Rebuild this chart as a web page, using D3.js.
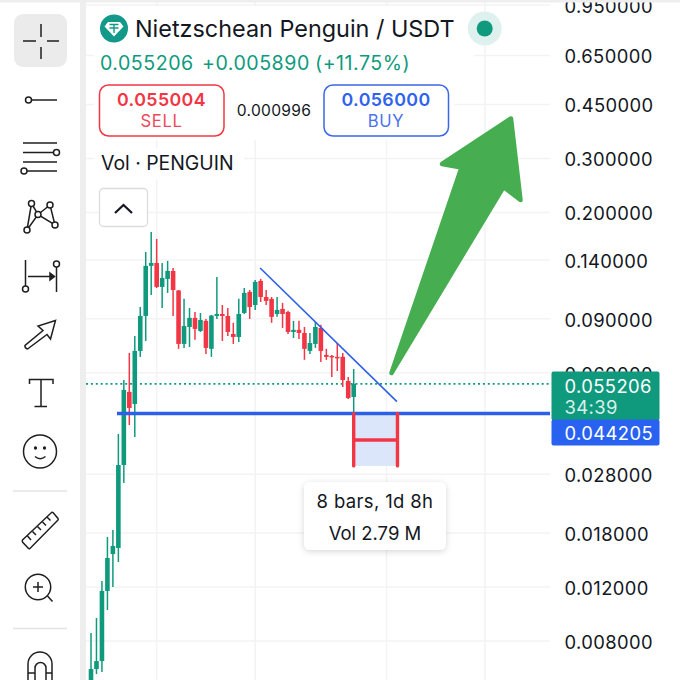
<!DOCTYPE html>
<html><head><meta charset="utf-8">
<script src="https://cdn.jsdelivr.net/npm/d3@7/dist/d3.min.js"></script>
<style>
html,body{margin:0;padding:0;background:#fff}
svg{display:block}
text{font-family:Inter,"Noto Sans",sans-serif}
</style></head><body>
<svg id="c" width="680" height="680"></svg>
<script>
const opens=[.00554,.00648,.00688,.01165,.01538,.01609,.03001,.05195,.04746,.07068,.09194,.1339,.1369,.1143,.1214,.1289,.1113,.0745,.0846,.0906,.0821,.0886,.0718,.0919,.0933,.0919,.0803,.0785,.0940,.1101,.0998,.1196,.1060,.1045,.0933,.0969,.0947,.0815,.0828,.0809,.0707,.0745,.0840,.0686,.0681,.0676,.0676,.0564,.0500];
const highs=[.00850,.00951,.01256,.01747,.01842,.03788,.05685,.06962,.07905,.09836,.1487,.1728,.1639,.1369,.1390,.1318,.1117,.1045,.0976,.0947,.0940,.0899,.0926,.1232,.0998,.0976,.0873,.1045,.1134,.1117,.1205,.1214,.1117,.1060,.1060,.1014,.0955,.0886,.0886,.0846,.0809,.0879,.0860,.0718,.0686,.0750,.0696,.0581,.0617];
const lows=[.00514,.00624,.00634,.01010,.01200,.01448,.02622,.04051,.03705,.06757,.0762,.1076,.1134,.0976,.1093,.0919,.0718,.0723,.0728,.0768,.0815,.0691,.0676,.0899,.0762,.0791,.0745,.0756,.0933,.0899,.0962,.1021,.0998,.0873,.0913,.0840,.0803,.0779,.0773,.0661,.0691,.0723,.0651,.0661,.0581,.0608,.0539,.0493,.0442];
const closes=[.00648,.00688,.01165,.01492,.01633,.03001,.05274,.04606,.07068,.09194,.1339,.1369,.1143,.1223,.1289,.1117,.0745,.0852,.0906,.0834,.0892,.0723,.0922,.0933,.0919,.0815,.0785,.0933,.1093,.0983,.1187,.1060,.1029,.0913,.0962,.0933,.0815,.0828,.0809,.0718,.0750,.0846,.0707,.0676,.0676,.0671,.0568,.0496,.055206];
const priceTicks=[.95,.65,.45,.30,.20,.14,.09,.06,.028,.018,.012,.008];
const timeGridBars=[12,30,54,72];
const lastPrice=0.055206, alertPrice=0.044205;
const trendBars=[30.9,55.9], trendPrices=[.1318,.0483];
const rangeBars=[48,56], rangeBottom=.0298, rangeMid=.0362;
const titleText="Nietzschean Penguin / USDT";
const quoteTexts=["0.055206","+0.005890","(+11.75%)"];

const GREEN="#0f9a7e",RED="#f23645",BLUE="#2d5fe8",INK="#131722",GRID="#f3f3f4";
const svg=d3.select("#c");
const y=d3.scaleLog().domain([.008,.95]).range([641,5]);
const x=d3.scaleLinear().domain([0,48]).range([91,353.7]);

svg.append("rect").attr("width",680).attr("height",680).attr("fill","#fff");
svg.append("defs").html(`<clipPath id="pane"><rect x="86" y="0" width="464" height="680"/></clipPath>
<filter id="sh" x="-20%" y="-20%" width="140%" height="150%"><feDropShadow dx="0" dy="1.5" stdDeviation="3" flood-color="#000" flood-opacity=".16"/></filter>`);
const pane=svg.append("g").attr("clip-path","url(#pane)");

// grid
pane.append("g").selectAll("line").data(priceTicks).join("line")
 .attr("x1",86).attr("x2",550).attr("y1",d=>y(d)).attr("y2",d=>y(d)).attr("stroke",GRID).attr("stroke-width",1.5);
pane.append("g").selectAll("line").data(timeGridBars).join("line")
 .attr("x1",d=>x(d)).attr("x2",d=>x(d)).attr("y1",0).attr("y2",680).attr("stroke",GRID).attr("stroke-width",1.5);

// last price line
pane.append("line").attr("x1",86).attr("x2",550).attr("y1",y(lastPrice)).attr("y2",y(lastPrice))
 .attr("stroke",GREEN).attr("stroke-width",1.6).attr("stroke-dasharray","2 2.9");

// candles
const idx=d3.range(opens.length);
const colr=i=>closes[i]>=opens[i]?GREEN:RED;
pane.append("g").selectAll("line").data(idx).join("line")
 .attr("x1",i=>x(i)).attr("x2",i=>x(i)).attr("y1",i=>y(highs[i])).attr("y2",i=>y(lows[i]))
 .attr("stroke",colr).attr("stroke-width",1.5);
pane.append("g").selectAll("rect").data(idx).join("rect")
 .attr("x",i=>x(i)-2.3).attr("width",4.6)
 .attr("y",i=>y(Math.max(opens[i],closes[i])))
 .attr("height",i=>Math.max(1.5,Math.abs(y(opens[i])-y(closes[i]))))
 .attr("fill",colr);

// range measurement
pane.append("rect").attr("x",x(rangeBars[0])).attr("width",x(rangeBars[1])-x(rangeBars[0]))
 .attr("y",y(alertPrice)).attr("height",y(rangeBottom)-y(alertPrice)).attr("fill","#dce6fb");
// alert line
pane.append("line").attr("x1",117).attr("x2",550).attr("y1",y(alertPrice)).attr("y2",y(alertPrice))
 .attr("stroke",BLUE).attr("stroke-width",3.5);
const rg=pane.append("g").attr("stroke",RED).attr("stroke-width",3.4).attr("stroke-linecap","round");
rangeBars.forEach(b=>rg.append("line").attr("x1",x(b)).attr("x2",x(b)).attr("y1",y(alertPrice)).attr("y2",y(rangeBottom)));
rg.append("line").attr("x1",x(rangeBars[0])).attr("x2",x(rangeBars[1])).attr("y1",y(rangeMid)).attr("y2",y(rangeMid)).attr("stroke-linecap","butt");

// trend line
pane.append("line").attr("x1",x(trendBars[0])).attr("x2",x(trendBars[1])).attr("y1",y(trendPrices[0])).attr("y2",y(trendPrices[1]))
 .attr("stroke",BLUE).attr("stroke-width",1.6);

// arrow annotation
svg.append("path").attr("d","M391.5 373 L461.5 167.5 L442 164 L511 118.5 L520.5 200 L503.5 187 Z")
 .attr("fill","#46ae50").attr("stroke","#46ae50").attr("stroke-width",4.5).attr("stroke-linejoin","round");

// tooltip
svg.append("rect").attr("x",304).attr("y",482).attr("width",142).attr("height",68).attr("rx",6).attr("fill","#fff").attr("filter","url(#sh)");
const tt=(s,xx,yy,size,fill,anchor,weight)=>svg.append("text").attr("x",xx).attr("y",yy).attr("font-size",size).attr("fill",fill).attr("text-anchor",anchor||"start").attr("font-weight",weight||400).text(s);
tt("8 bars, 1d 8h",375,508,18.5,INK,"middle").style("letter-spacing","0.35px");
tt("Vol 2.79 M",375,540,18.5,INK,"middle");

// right axis
const axis=d3.axisRight(y).tickValues(priceTicks).tickFormat(d3.format(".6f")).tickSize(0).tickPadding(0);
const ag=svg.append("g").attr("transform","translate(564.5,1.5)").call(axis);
ag.select(".domain").remove();
ag.selectAll("text").attr("font-size",18.4).attr("fill",INK).style("font-family",'Inter,"Noto Sans",sans-serif').style("letter-spacing","0.4px");

// price tags
svg.append("rect").attr("x",551.5).attr("y",371.5).attr("width",108).attr("height",49).attr("rx",2).attr("fill",GREEN);
svg.append("rect").attr("x",551.5).attr("y",419.5).attr("width",108).attr("height",26).attr("rx",2).attr("fill","#2962f0");
tt(d3.format(".6f")(lastPrice),564.5,392.5,18.4,"#fff").style("letter-spacing","0.4px");
tt("34:39",564.5,413.5,18.4,"#d8f0ea").style("letter-spacing","0.4px");
tt(d3.format(".6f")(alertPrice),564.5,439.5,18.4,"#fff").style("letter-spacing","0.4px");

// legend backing
svg.append("rect").attr("x",94).attr("y",6).attr("width",380).attr("height",74).attr("fill","#fff");
svg.append("rect").attr("x",94).attr("y",80).attr("width",360).attr("height",60).attr("fill","#fff");
svg.append("rect").attr("x",94).attr("y",148).attr("width",150).attr("height",32).attr("fill","#fff");
svg.append("circle").attr("cx",114).attr("cy",28.5).attr("r",14).attr("fill","#12998a");
svg.append("path").attr("d","M108 22 H120 L123.5 26.5 L114 36.5 L104.5 26.5 Z").attr("fill","#fff");
svg.append("path").attr("d","M109.5 24.5 H118.5 M114 24.5 V33 M109.5 28 H118.5").attr("stroke","#12998a").attr("stroke-width",1.4).attr("fill","none");
tt(titleText,135,37,23.4,INK);
svg.append("circle").attr("cx",484.7).attr("cy",28.5).attr("r",17).attr("fill","#dff1ee");
svg.append("circle").attr("cx",484.7).attr("cy",28.5).attr("r",8).attr("fill",GREEN);
[100,202,315].forEach((px,i)=>tt(quoteTexts[i],px,70,19.6,GREEN).style("letter-spacing","0.5px"));

const box=(x0,w,col)=>svg.append("rect").attr("x",x0).attr("y",85).attr("width",w).attr("height",51).attr("rx",9).attr("fill","#fff").attr("stroke",col).attr("stroke-width",1.5);
box(99.5,124.5,RED); box(324,124.5,"#3c66e8");
tt("0.055004",161.5,105.5,17.8,RED,"middle",600).style("letter-spacing","0.4px");
tt("SELL",161.5,127,16.6,"#ec4a5c","middle").style("letter-spacing","0.6px");
tt("0.056000",386,105.5,17.8,"#2f62f0","middle",600).style("letter-spacing","0.4px");
tt("BUY",386,127,16.6,"#4a72ec","middle").style("letter-spacing","0.6px");
tt("0.000996",274,115.5,15.6,INK,"middle").style("letter-spacing","0.3px");
tt("Vol · PENGUIN",101,170,19.4,INK);
svg.append("rect").attr("x",99.5).attr("y",188.5).attr("width",48).attr("height",38).attr("rx",4).attr("fill","#fff").attr("stroke","#dcdcdc").attr("stroke-width",1.3);
svg.append("path").attr("d","M115 213 L123.5 205 L132 213").attr("fill","none").attr("stroke",INK).attr("stroke-width",2.2);

// toolbar
svg.append("rect").attr("x",80).attr("y",0).attr("width",6).attr("height",680).attr("fill","#eeeeee");
svg.append("rect").attr("x",0).attr("y",0).attr("width",680).attr("height",2.5).attr("fill","#eeeeee");
svg.append("rect").attr("x",14).attr("y",14).attr("width",53).attr("height",53).attr("rx",9).attr("fill","#ebebeb");
const icons=svg.append("g").attr("fill","none").attr("stroke","#1f1f1f").attr("stroke-width",1.5);
const p=d=>icons.append("path").attr("d",d);
const dot=(a,b,r)=>icons.append("circle").attr("cx",a).attr("cy",b).attr("r",r||3).attr("fill","#fff");
p("M41 24V37M41 47V59M23 41H36M47 41H59");
p("M31.5 100H57");dot(28.5,100);
p("M23 143H57M23 152.5H53M23 162H57M27 171H57");dot(56.5,152.5);dot(24,171);
p("M31.5 203.5L27 230M31.5 203.5L38 214.5L50 205L55 225L38 214.5L27 230");
[[31.5,203.5],[50,205],[38,214.5],[27,230],[55,225]].forEach(a=>dot(a[0],a[1]));
p("M25.5 260V286M56.5 267V292M28 276.5H53");
icons.append("path").attr("d","M50 273L54.5 276.5L50 280Z").attr("fill","#1f1f1f");
dot(25.5,289);dot(56.5,264);
p("M55.5 320.5L38 326L43 330.5L25 345.5Q24.5 348 27.5 349L47 334.5L50.5 339Z");
p("M29.5 384V379.5H53V384M41 379.5V406.5M34.5 406.5H47");
icons.append("circle").attr("cx",40).attr("cy",451.5).attr("r",16.5);
icons.append("circle").attr("cx",35.5).attr("cy",448).attr("r",.9).attr("fill","#1f1f1f");
icons.append("circle").attr("cx",44.5).attr("cy",448).attr("r",.9).attr("fill","#1f1f1f");
p("M35 456.5Q40 461 45.5 456.5");
svg.append("line").attr("x1",13).attr("x2",67).attr("y1",491).attr("y2",491).attr("stroke","#e3e3e3").attr("stroke-width",1.3);
p("M22.5 540L51.5 512.5Q52.5 512 53 512.5L58 518.5Q58.5 519.5 58 520L30 548.5Q29 549 28.5 548.5L22.5 542Q22 541 22.5 540Z");
p("M27.5 536L31 540M32.5 531.5L36 535M37.5 526.5L41 530M42.5 522L46 525.5M47 517L50.5 520.5");
icons.append("circle").attr("cx",38).attr("cy",587).attr("r",12.7);
p("M47.5 596L52.5 601.5M33 587H43M38 582V592");
svg.append("line").attr("x1",13).attr("x2",67).attr("y1",628.5).attr("y2",628.5).attr("stroke","#e3e3e3").attr("stroke-width",1.3);
p("M28 682V664A12 12 0 0 1 52 664V682M35 682V668A5.5 5.5 0 0 1 46 668V682M28 673H35M46 673H52");
</script></body></html>
